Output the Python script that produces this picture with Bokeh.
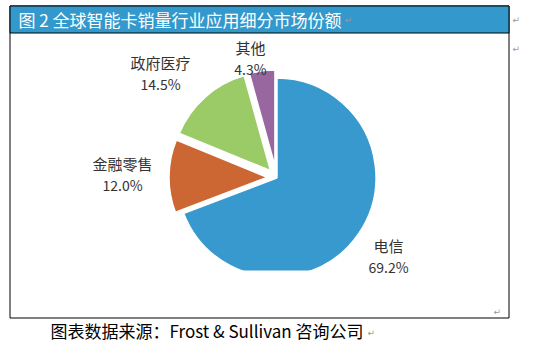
import numpy as np
from bokeh.plotting import figure
from bokeh.models import Range1d
from bokeh.core.properties import value
from bokeh.embed import file_html
from bokeh.resources import INLINE

# ---- data ----
title_text = "图 2 全球智能卡销量行业应用细分市场份额"
source_note = "图表数据来源：Frost & Sullivan 咨询公司"
categories = ["电信", "金融零售", "政府医疗", "其他"]
shares = [69.2, 12.0, 14.5, 4.3]
share_labels = ["69.2%", "12.0%", "14.5%", "4.3%"]

# ---- style / layout ----
colors = ["#3799CD", "#CC6633", "#9BCB66", "#98679F"]
explode_px = np.array([0, 8, 8, 8])
label_px_x = [388, 122, 160, 250]
label_px_y = [245, 163, 62, 47]

W, H = 550, 346


def Y(px):
    return H - px


FONT = value("Noto Sans CJK SC")

p = figure(width=W, height=H, output_backend="svg", toolbar_location=None,
           x_range=Range1d(0, W), y_range=Range1d(0, H),
           x_axis_location=None, y_axis_location=None, min_border=0)
p.grid.visible = False
p.outline_line_color = None
p.background_fill_color = "white"
p.border_fill_color = "white"

# pie
cx, cy, r = 276, Y(177), 100
fr = np.array(shares) / np.sum(shares)
cum = np.concatenate([[0.0], np.cumsum(fr)])
start = np.pi / 2 - 2 * np.pi * cum[1:]
end = np.pi / 2 - 2 * np.pi * cum[:-1]
mid = (start + end) / 2
xs = cx + explode_px * np.cos(mid)
ys = cy + explode_px * np.sin(mid)
p.wedge(x=xs, y=ys, radius=r, start_angle=start, end_angle=end,
        fill_color=colors, line_color="white", line_width=2.5)

# plot-area clipping at bottom of chart area
p.quad(left=[10], right=[508], bottom=[Y(316.5)], top=[Y(270)],
       fill_color="white", line_color=None)

# outer box and title bar
p.quad(left=[9.5], right=[508.5], bottom=[Y(317.5)], top=[Y(5.5)],
       fill_color=None, line_color="black", line_width=1)
p.quad(left=[9.5], right=[508.5], bottom=[Y(32.5)], top=[Y(5.5)],
       fill_color="#3399CC", line_color="black", line_width=1)

p.text(x=[18], y=[Y(19)], text=[title_text], text_font=FONT,
       text_font_size="17px", text_color="white",
       text_align="left", text_baseline="middle")

# labels
lx = label_px_x
p.text(x=lx, y=[Y(v) for v in label_px_y], text=categories, text_font=FONT,
       text_font_size="15px", text_color="#333333",
       text_align="center", text_baseline="middle")
p.text(x=lx, y=[Y(v + 21) for v in label_px_y], text=share_labels, text_font=FONT,
       text_font_size="14px", text_color="#333333",
       text_align="center", text_baseline="middle")

# footer
p.text(x=[50], y=[Y(330)], text=[source_note], text_font=FONT,
       text_font_size="17px", text_color="black",
       text_align="left", text_baseline="middle")

# paragraph marks
p.text(x=[344, 512, 512, 493, 367], y=[Y(19), Y(19), Y(48), Y(311), Y(332)],
       text=["↵"] * 5, text_font=value("DejaVu Sans"), text_font_size="9px",
       text_color="#9A9A9A", text_align="left", text_baseline="middle")

open("out.html", "w").write(file_html(p, INLINE))
